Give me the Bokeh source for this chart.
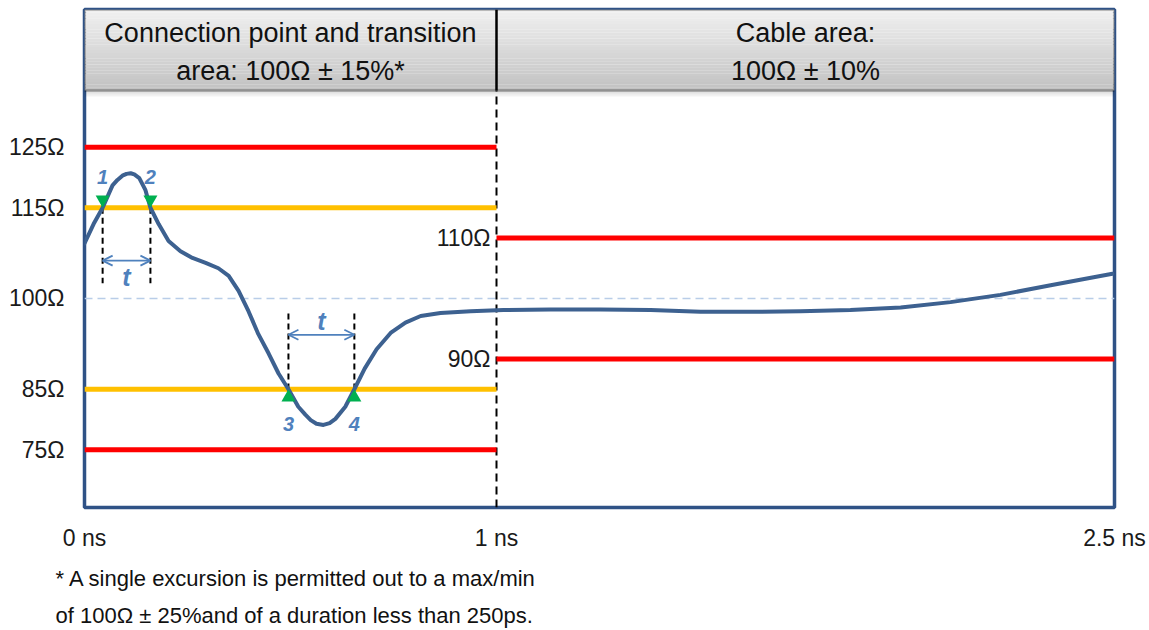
from bokeh.plotting import figure
from bokeh.models import Label, BoxAnnotation, Arrow, OpenHead, FixedTicker, Title
from bokeh.embed import file_html
from bokeh.resources import INLINE

# ---------------- data ----------------
time_ns = [0.000, 0.022, 0.044, 0.068, 0.080, 0.092, 0.102, 0.112, 0.121, 0.133,
           0.148, 0.160, 0.180, 0.204, 0.233, 0.262, 0.294, 0.325, 0.350, 0.374,
           0.398, 0.422, 0.447, 0.471, 0.495, 0.519, 0.536, 0.549, 0.563, 0.580,
           0.595, 0.609, 0.633, 0.655, 0.680, 0.709, 0.743, 0.779, 0.816, 0.864,
           0.937, 1.017, 1.131, 1.252, 1.374, 1.495, 1.617, 1.738, 1.859, 1.981,
           2.102, 2.223, 2.345, 2.495]
impedance = [109.1, 112.3, 115.0, 118.7, 119.6, 120.3, 120.6, 120.7, 120.5, 119.9,
             117.9, 115.0, 112.3, 109.5, 107.8, 106.7, 105.9, 105.0, 103.75, 101.25,
             97.9, 94.1, 90.9, 87.6, 85.0, 82.1, 80.8, 79.9, 79.3, 79.1,
             79.4, 80.1, 82.1, 85.0, 88.4, 91.6, 94.3, 96.0, 97.1, 97.6,
             97.9, 98.1, 98.2, 98.2, 98.1, 97.8, 97.8, 97.9, 98.1, 98.5,
             99.4, 100.6, 102.2, 104.1]

x_ticks = [0, 1, 2.5]
x_tick_labels = ["0 ns", "1 ns", "2.5 ns"]
y_ticks = [75, 85, 100, 115, 125]
y_tick_labels = ["75Ω", "85Ω", "100Ω", "115Ω", "125Ω"]

transition_end = 1.0          # ns, end of connection/transition area
cable_end = 2.5               # ns
nominal = 100                 # Ω
outer_limits = [125, 75]      # red, transition area (single excursion)
inner_limits = [115, 85]      # orange, transition area
cable_limits = [110, 90]      # red, cable area
cable_limit_labels = ["110Ω", "90Ω"]

cross_t = [0.044, 0.160, 0.495, 0.655]
cross_level = [115, 115, 85, 85]
cross_names = ["1", "2", "3", "4"]
cross_label_y = [120.1, 120.1, 79.3, 79.3]
guide_top = [115, 115, 97.5, 97.5]
guide_bottom = [102.5, 102.5, 85, 85]
arrow_y = [106.25, 94.0]
t_label_y = [103.5, 96.3]

header_texts = [["Connection point and transition", "area: 100Ω ± 15%*"],
                ["Cable area:", "100Ω ± 10%"]]
footnote = ["* A single excursion is permitted out to a max/min",
            "of 100Ω ± 25%and of a duration less than 250ps."]

# ---------------- styling ----------------
FONT = "Liberation Sans"
FRAME_BLUE = "#2F5286"
CURVE_BLUE = "#3D6190"
ACCENT = "#4F81BD"
RED = "#FF0000"
ORANGE = "#FFC000"
GREEN = "#00B050"
NOMINAL_C = "#B9CDE8"

Y_BOTTOM = 65.45
Y_TOP = 147.77
HEADER_BOTTOM = 134.38
MARKER_GAP = 1.35

p = figure(width=1149, height=630, x_range=(0, cable_end), y_range=(Y_BOTTOM, Y_TOP),
           output_backend="svg", toolbar_location=None,
           min_border_left=84, min_border_right=35, min_border_top=9, min_border_bottom=123)
p.xgrid.visible = False
p.ygrid.visible = False
p.background_fill_color = "white"
p.border_fill_color = "white"
p.outline_line_color = FRAME_BLUE
p.outline_line_width = 3.5

for ax in (p.xaxis, p.yaxis):
    ax.axis_line_color = None
    ax.major_tick_line_color = None
    ax.minor_tick_line_color = None
    ax.major_label_text_font = FONT
    ax.major_label_text_font_size = "23px"
    ax.major_label_text_color = "#1a1a1a"
p.xaxis.ticker = FixedTicker(ticks=x_ticks)
p.xaxis.major_label_overrides = dict(zip(x_ticks, x_tick_labels))
p.xaxis.major_label_standoff = 11
p.yaxis.ticker = FixedTicker(ticks=y_ticks)
p.yaxis.major_label_overrides = dict(zip(y_ticks, y_tick_labels))
p.yaxis.major_label_standoff = 14

# ---------------- header (gradient band) ----------------
n_strips = 28
h = (Y_TOP - HEADER_BOTTOM) / n_strips
for i in range(n_strips):
    f = i / (n_strips - 1)
    g = int(round(240 - f * 46))
    p.add_layout(BoxAnnotation(left=0, right=cable_end,
                               bottom=Y_TOP - (i + 1) * h - 0.02, top=Y_TOP - i * h,
                               fill_color=f"#{g:02x}{g:02x}{g:02x}", fill_alpha=1,
                               line_color=None, level="underlay"))
# soft shadow under header
for k, a in enumerate([0.14, 0.09, 0.05]):
    p.add_layout(BoxAnnotation(left=0, right=cable_end,
                               bottom=HEADER_BOTTOM - (k + 1) * 0.33, top=HEADER_BOTTOM - k * 0.33,
                               fill_color="black", fill_alpha=a, line_color=None, level="underlay"))
p.add_layout(BoxAnnotation(left=0, right=cable_end, bottom=HEADER_BOTTOM, top=Y_TOP,
                           fill_color=None, fill_alpha=0, line_color="black", line_width=2.5))
p.segment(x0=[transition_end], y0=[HEADER_BOTTOM], x1=[transition_end], y1=[Y_TOP],
          line_color="black", line_width=2.5)

hdr_x = [transition_end / 2, (transition_end + cable_end) / 2]
line_y = [HEADER_BOTTOM + 0.71 * (Y_TOP - HEADER_BOTTOM), HEADER_BOTTOM + 0.24 * (Y_TOP - HEADER_BOTTOM)]
for cx, lines in zip(hdr_x, header_texts):
    for ly, txt in zip(line_y, lines):
        p.add_layout(Label(x=cx, y=ly, text=txt, text_font=FONT, text_font_size="27px",
                           text_color="#111111", text_align="center", text_baseline="middle"))

# ---------------- reference lines ----------------
p.line([0, cable_end], [nominal, nominal], line_color=NOMINAL_C, line_width=1.6, line_dash="8 5")
p.segment(x0=[transition_end], y0=[Y_BOTTOM], x1=[transition_end], y1=[HEADER_BOTTOM],
          line_color="black", line_width=2, line_dash="8 5")
p.segment(x0=[0] * 2, y0=outer_limits, x1=[transition_end] * 2, y1=outer_limits,
          line_color=RED, line_width=5)
p.segment(x0=[0] * 2, y0=inner_limits, x1=[transition_end] * 2, y1=inner_limits,
          line_color=ORANGE, line_width=5)
p.segment(x0=[transition_end] * 2, y0=cable_limits, x1=[cable_end] * 2, y1=cable_limits,
          line_color=RED, line_width=5)
for lvl, txt in zip(cable_limits, cable_limit_labels):
    p.add_layout(Label(x=transition_end, y=lvl, text=txt, x_offset=-6, text_font=FONT,
                       text_font_size="23px", text_color="#1a1a1a",
                       text_align="right", text_baseline="middle"))

# ---------------- crossing guides ----------------
p.segment(x0=cross_t, y0=guide_top, x1=cross_t, y1=guide_bottom,
          line_color="black", line_width=2, line_dash="6 4")

# ---------------- curve ----------------
p.line(time_ns, impedance, line_color=CURVE_BLUE, line_width=4, line_join="round", line_cap="round")

# ---------------- markers ----------------
down = [(t, l + MARKER_GAP) for t, l in zip(cross_t, cross_level) if l > nominal]
up = [(t, l - MARKER_GAP) for t, l in zip(cross_t, cross_level) if l < nominal]
p.scatter([d[0] for d in down], [d[1] for d in down], marker="inverted_triangle",
          size=14, fill_color=GREEN, line_color=None)
p.scatter([u[0] for u in up], [u[1] for u in up], marker="triangle",
          size=14, fill_color=GREEN, line_color=None)
for t, ly, name in zip(cross_t, cross_label_y, cross_names):
    p.add_layout(Label(x=t, y=ly, text=name, text_font=FONT, text_font_size="20px",
                       text_font_style="bold italic", text_color=ACCENT,
                       text_align="center", text_baseline="middle"))

for k, (ay, ty) in enumerate(zip(arrow_y, t_label_y)):
    t0, t1 = cross_t[2 * k], cross_t[2 * k + 1]
    p.add_layout(Arrow(x_start=t0, y_start=ay, x_end=t1, y_end=ay,
                       line_color=ACCENT, line_width=1.8,
                       start=OpenHead(size=10, line_color=ACCENT, line_width=1.8),
                       end=OpenHead(size=10, line_color=ACCENT, line_width=1.8)))
    p.add_layout(Label(x=(t0 + t1) / 2, y=ty, text="t", text_font=FONT, text_font_size="25px",
                       text_font_style="bold italic", text_color=ACCENT,
                       text_align="center", text_baseline="middle"))

# ---------------- footnote ----------------
p.add_layout(Title(text=footnote[0], align="left", offset=-29, standoff=20,
                   text_font=FONT, text_font_size="22px", text_font_style="normal",
                   text_color="#111111"), "below")
p.add_layout(Title(text=footnote[1], align="left", offset=-29, standoff=1,
                   text_font=FONT, text_font_size="22px", text_font_style="normal",
                   text_color="#111111"), "below")

open("out.html", "w").write(file_html(p, INLINE))
